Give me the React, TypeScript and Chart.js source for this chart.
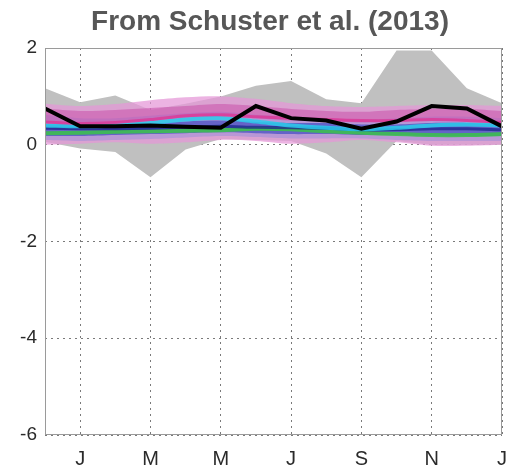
import React, { useEffect, useRef } from 'react';
import { Chart, registerables } from 'chart.js';

Chart.register(...registerables);

// Months from December (0) to the following January (13)
const monthLabels = ['D', 'J', 'F', 'M', 'A', 'M', 'J', 'J', 'A', 'S', 'O', 'N', 'D', 'J'];
const monthIndex = [0, 1, 2, 3, 4, 5, 6, 7, 8, 9, 10, 11, 12, 13];
const tickMonths = [1, 3, 5, 7, 9, 11, 13];
const yTickValues = [-6, -4, -2, 0, 2];

const titleText = 'From Schuster et al. (2013)';

// Grey envelope
const grayUpper = [1.17, 0.88, 1.02, 0.72, 0.85, 1.0, 1.22, 1.32, 0.94, 0.86, 1.95, 1.95, 1.17, 0.86];
const grayLower = [0.06, -0.08, -0.15, -0.67, -0.1, 0.12, 0.1, 0.08, -0.18, -0.67, 0.08, 0.0, 0.0, 0.0];

// Light pink band
const pinkUpper = [0.85, 0.8, 0.84, 0.92, 0.98, 1.0, 0.95, 0.86, 0.8, 0.78, 0.8, 0.82, 0.82, 0.8];
const pinkLower = [0.0, 0.02, 0.05, 0.02, 0.05, 0.1, 0.08, 0.02, 0.05, 0.1, 0.05, -0.02, -0.02, 0.0];

// Magenta band
const magentaUpper = [0.75, 0.7, 0.72, 0.76, 0.8, 0.84, 0.8, 0.74, 0.7, 0.68, 0.72, 0.74, 0.74, 0.7];
const magentaLower = [0.45, 0.42, 0.45, 0.5, 0.56, 0.58, 0.55, 0.5, 0.48, 0.46, 0.48, 0.5, 0.48, 0.44];

// Lavender band
const lavenderUpper = [0.62, 0.55, 0.55, 0.6, 0.65, 0.68, 0.62, 0.58, 0.55, 0.52, 0.55, 0.58, 0.58, 0.55];
const lavenderLower = [0.1, 0.08, 0.1, 0.12, 0.15, 0.18, 0.16, 0.13, 0.13, 0.13, 0.1, 0.08, 0.08, 0.08];

// Blue band
const blueUpper = [0.43, 0.4, 0.4, 0.43, 0.48, 0.5, 0.47, 0.45, 0.45, 0.42, 0.42, 0.45, 0.45, 0.42];
const blueLower = [0.18, 0.18, 0.2, 0.22, 0.24, 0.26, 0.24, 0.22, 0.22, 0.2, 0.2, 0.18, 0.18, 0.18];

// Lines
const cyanLine = [0.4, 0.38, 0.4, 0.45, 0.52, 0.55, 0.48, 0.4, 0.35, 0.32, 0.35, 0.4, 0.42, 0.4];
const greenLine = [0.24, 0.25, 0.27, 0.28, 0.29, 0.3, 0.33, 0.32, 0.28, 0.25, 0.22, 0.2, 0.2, 0.22];
const navyLine = [0.34, 0.33, 0.33, 0.34, 0.36, 0.38, 0.36, 0.35, 0.34, 0.31, 0.31, 0.33, 0.33, 0.31];
const magentaLine = [0.47, 0.44, 0.46, 0.52, 0.6, 0.62, 0.58, 0.55, 0.52, 0.5, 0.5, 0.52, 0.5, 0.46];
const observedLine = [0.75, 0.38, 0.38, 0.4, 0.37, 0.35, 0.8, 0.55, 0.5, 0.33, 0.48, 0.8, 0.75, 0.38];

const toPoints = (vals: number[]) => vals.map((v, i) => ({ x: monthIndex[i], y: v }));

const FONT = "'Liberation Sans', Arial, Helvetica, sans-serif";

export default function App() {
  const ref = useRef<HTMLCanvasElement | null>(null);

  useEffect(() => {
    if (!ref.current) return;
    const datasets: any[] = [];

    const addBand = (lower: number[], upper: number[], color: string, order: number, tension: number) => {
      const lowerIdx = datasets.length;
      datasets.push({
        data: toPoints(lower),
        borderWidth: 0,
        pointRadius: 0,
        fill: false,
        tension,
        order,
      });
      datasets.push({
        data: toPoints(upper),
        borderWidth: 0,
        pointRadius: 0,
        backgroundColor: color,
        fill: lowerIdx,
        tension,
        order,
      });
    };
    const addLine = (vals: number[], color: string, width: number, order: number, tension: number) => {
      datasets.push({
        data: toPoints(vals),
        borderColor: color,
        borderWidth: width,
        pointRadius: 0,
        fill: false,
        tension,
        order,
      });
    };

    addBand(grayLower, grayUpper, 'rgb(192,192,192)', 20, 0);
    addBand(pinkLower, pinkUpper, 'rgba(228,150,215,0.72)', 19, 0.3);
    addBand(lavenderLower, lavenderUpper, 'rgba(150,140,220,0.5)', 18, 0.3);
    addBand(magentaLower, magentaUpper, 'rgba(200,80,170,0.55)', 17, 0.3);
    addBand(blueLower, blueUpper, 'rgba(45,65,190,0.6)', 16, 0.3);
    addLine(greenLine, 'rgba(60,190,80,0.9)', 4, 15, 0.3);
    addLine(navyLine, 'rgba(25,35,140,0.75)', 3, 14, 0.3);
    addLine(cyanLine, 'rgba(40,205,235,0.85)', 4, 13, 0.3);
    addLine(magentaLine, 'rgba(220,55,150,0.8)', 3, 12, 0.3);
    addLine(observedLine, '#000000', 4, 0, 0);

    const framePlugin = {
      id: 'frameAndTitle',
      afterDraw(chart: any) {
        const { ctx, chartArea } = chart;
        ctx.save();
        ctx.strokeStyle = '#9a9a9a';
        ctx.lineWidth = 1;
        ctx.setLineDash([]);
        ctx.strokeRect(
          Math.round(chartArea.left) + 0.5,
          Math.round(chartArea.top) + 0.5,
          Math.round(chartArea.right - chartArea.left) - 1,
          Math.round(chartArea.bottom - chartArea.top) - 1
        );
        ctx.fillStyle = '#575757';
        ctx.font = `bold 28px ${FONT}`;
        ctx.textAlign = 'center';
        ctx.textBaseline = 'alphabetic';
        ctx.fillText(titleText, 270, 30);
        ctx.restore();
      },
    };

    const chart = new Chart(ref.current, {
      type: 'line',
      data: { datasets },
      options: {
        animation: false,
        responsive: false,
        maintainAspectRatio: false,
        layout: { padding: { top: 48, right: 8, left: 0, bottom: 0 } },
        plugins: {
          legend: { display: false },
          tooltip: { enabled: false },
          title: { display: false },
        },
        scales: {
          x: {
            type: 'linear',
            min: 0,
            max: 13,
            z: 1,
            afterBuildTicks: (s: any) => {
              s.ticks = tickMonths.map((v) => ({ value: v }));
            },
            afterFit: (s: any) => {
              s.height = 33;
              s.paddingLeft = 0;
              s.paddingRight = 0;
            },
            grid: { color: '#7a7a7a', lineWidth: 1, drawTicks: false },
            border: { display: false, dash: [2, 4] },
            ticks: {
              autoSkip: false,
              maxRotation: 0,
              padding: 12,
              color: '#2a2a2a',
              font: { family: FONT, size: 20 },
              callback: (v: any) => monthLabels[v as number],
            },
          },
          y: {
            type: 'linear',
            min: -6,
            max: 2,
            z: 1,
            afterBuildTicks: (s: any) => {
              s.ticks = yTickValues.map((v) => ({ value: v }));
            },
            afterFit: (s: any) => {
              s.width = 45;
              s.paddingTop = 0;
              s.paddingBottom = 0;
            },
            grid: { color: '#7a7a7a', lineWidth: 1, drawTicks: false },
            border: { display: false, dash: [2, 4] },
            ticks: {
              padding: 8,
              color: '#2a2a2a',
              font: { family: FONT, size: 19 },
              callback: (v: any) => String(v),
            },
          },
        },
      },
      plugins: [framePlugin],
    });

    return () => chart.destroy();
  }, []);

  return (
    <div style={{ position: 'fixed', left: 0, top: 0, width: 510, height: 468, background: '#fff' }}>
      <canvas ref={ref} width={510} height={468} style={{ display: 'block' }} />
    </div>
  );
}
